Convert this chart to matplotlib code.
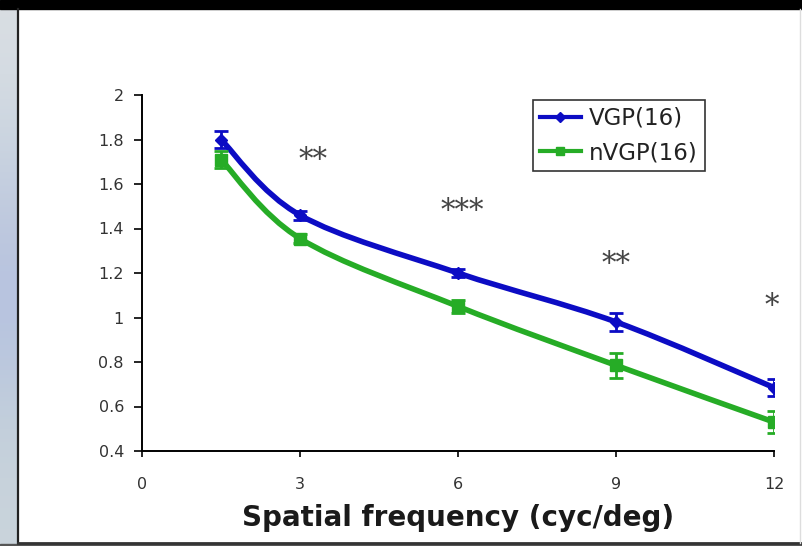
import numpy as np
import matplotlib.pyplot as plt
from matplotlib.path import Path
from matplotlib.patches import PathPatch, Rectangle
from matplotlib.lines import Line2D

# contrast sensitivity per spatial frequency
freqs = [1.5, 3, 6, 9, 12]
vgp = [1.80, 1.46, 1.20, 0.98, 0.685]
vgp_err = [0.04, 0.02, 0.02, 0.04, 0.04]
nvgp = [1.71, 1.355, 1.05, 0.785, 0.53]
nvgp_err = [0.04, 0.02, 0.03, 0.055, 0.05]

# significance marks above each frequency
star_x = [3.25, 6.08, 9, 11.95]
star_y = [1.71, 1.48, 1.24, 1.05]
star_text = ["**", "***", "**", "*"]

xticks = [0, 3, 6, 9, 12]
yticks = [0.4, 0.6, 0.8, 1, 1.2, 1.4, 1.6, 1.8, 2]
ytick_labels = ["0.4", "0.6", "0.8", "1", "1.2", "1.4", "1.6", "1.8", "2"]

BLUE = "#0c0cc4"
GREEN = "#26ac26"

W, H = 803, 546


def smooth_path(xs, ys):
    # Catmull-Rom style bezier through the points
    pts = np.column_stack([xs, ys]).astype(float)
    n = len(pts)
    verts = [pts[0]]
    codes = [Path.MOVETO]
    for i in range(n - 1):
        p0 = pts[i - 1] if i > 0 else pts[i]
        p1 = pts[i]
        p2 = pts[i + 1]
        p3 = pts[i + 2] if i + 2 < n else pts[i + 1]
        c1 = p1 + (p2 - p0) / 6
        c2 = p2 - (p3 - p1) / 6
        verts += [c1, c2, p2]
        codes += [Path.CURVE4] * 3
    return Path(verts, codes)


fig = plt.figure(figsize=(W / 100, H / 100), dpi=100)
fig.patch.set_facecolor("white")

# slide background: gradient strip on the left, black band on top
bg = fig.add_axes([0, 0, 1, 1], zorder=-5)
bg.set_axis_off()
grad = np.array([[0.85, 0.87, 0.89], [0.80, 0.84, 0.88], [0.74, 0.78, 0.87],
                 [0.71, 0.76, 0.88], [0.76, 0.81, 0.86], [0.79, 0.83, 0.86]])
bg.imshow(grad[:, None, :], extent=[0, 17, H, 0], aspect="auto", interpolation="bicubic")
bg.add_patch(Rectangle((0, 0), W, 9, color="black"))
bg.plot([18, 18], [9, 543], color="#222222", lw=1.6)
bg.plot([18, W], [543, 543], color="#333333", lw=2)
bg.add_patch(Rectangle((0, 544), W, 3, color="#555555"))
bg.plot([800, 800], [9, 543], color="#dddddd", lw=1)
bg.set_xlim(0, W)
bg.set_ylim(H, 0)

ax = fig.add_axes([142 / W, 1 - 451 / H, 632 / W, 356 / H])
ax.set_facecolor("none")
ax.set_xlim(0, 12)
ax.set_ylim(0.4, 2)

for ys, err, color, marker, ms in [(vgp, vgp_err, BLUE, "D", 6),
                                    (nvgp, nvgp_err, GREEN, "s", 8)]:
    ax.add_patch(PathPatch(smooth_path(freqs, ys), facecolor="none",
                           edgecolor=color, lw=4, capstyle="round", zorder=3))
    ax.errorbar(freqs, ys, yerr=err, fmt="none", ecolor=color, elinewidth=2,
                capsize=5, capthick=2, zorder=4)
    ax.plot(freqs, ys, linestyle="none", marker=marker, ms=ms, color=color, zorder=5)

for x, y, s in zip(star_x, star_y, star_text):
    ax.text(x, y, s, ha="center", va="center", fontsize=21, color="#444444",
            family="DejaVu Serif")

ax.spines["top"].set_visible(False)
ax.spines["right"].set_visible(False)
ax.spines["left"].set_linewidth(1.4)
ax.spines["bottom"].set_linewidth(1.4)
ax.set_xticks(xticks)
ax.set_yticks(yticks)
ax.set_yticklabels(ytick_labels)
ax.tick_params(direction="out", width=1.2, labelsize=11.5, labelcolor="#333333")
ax.tick_params(axis="x", length=4, pad=15)
ax.tick_params(axis="y", length=6, pad=7)
ax.set_xlabel("Spatial frequency (cyc/deg)", fontsize=20, fontweight="bold",
              color="#1a1a1a", labelpad=8)

handles = [Line2D([], [], color=BLUE, lw=3, marker="D", ms=5),
           Line2D([], [], color=GREEN, lw=3, marker="s", ms=6)]
leg = fig.legend(handles, ["VGP(16)", "nVGP(16)"], loc="upper left",
                 bbox_to_anchor=(533 / W, 1 - 100 / H), fontsize=16.5,
                 handlelength=1.8, handletextpad=0.35, borderpad=0.3,
                 labelspacing=0.5, fancybox=False, borderaxespad=0)
leg.get_frame().set_edgecolor("black")
leg.get_frame().set_linewidth(1.2)
for t in leg.get_texts():
    t.set_color("#222222")

fig.savefig("out.png", dpi=100)
